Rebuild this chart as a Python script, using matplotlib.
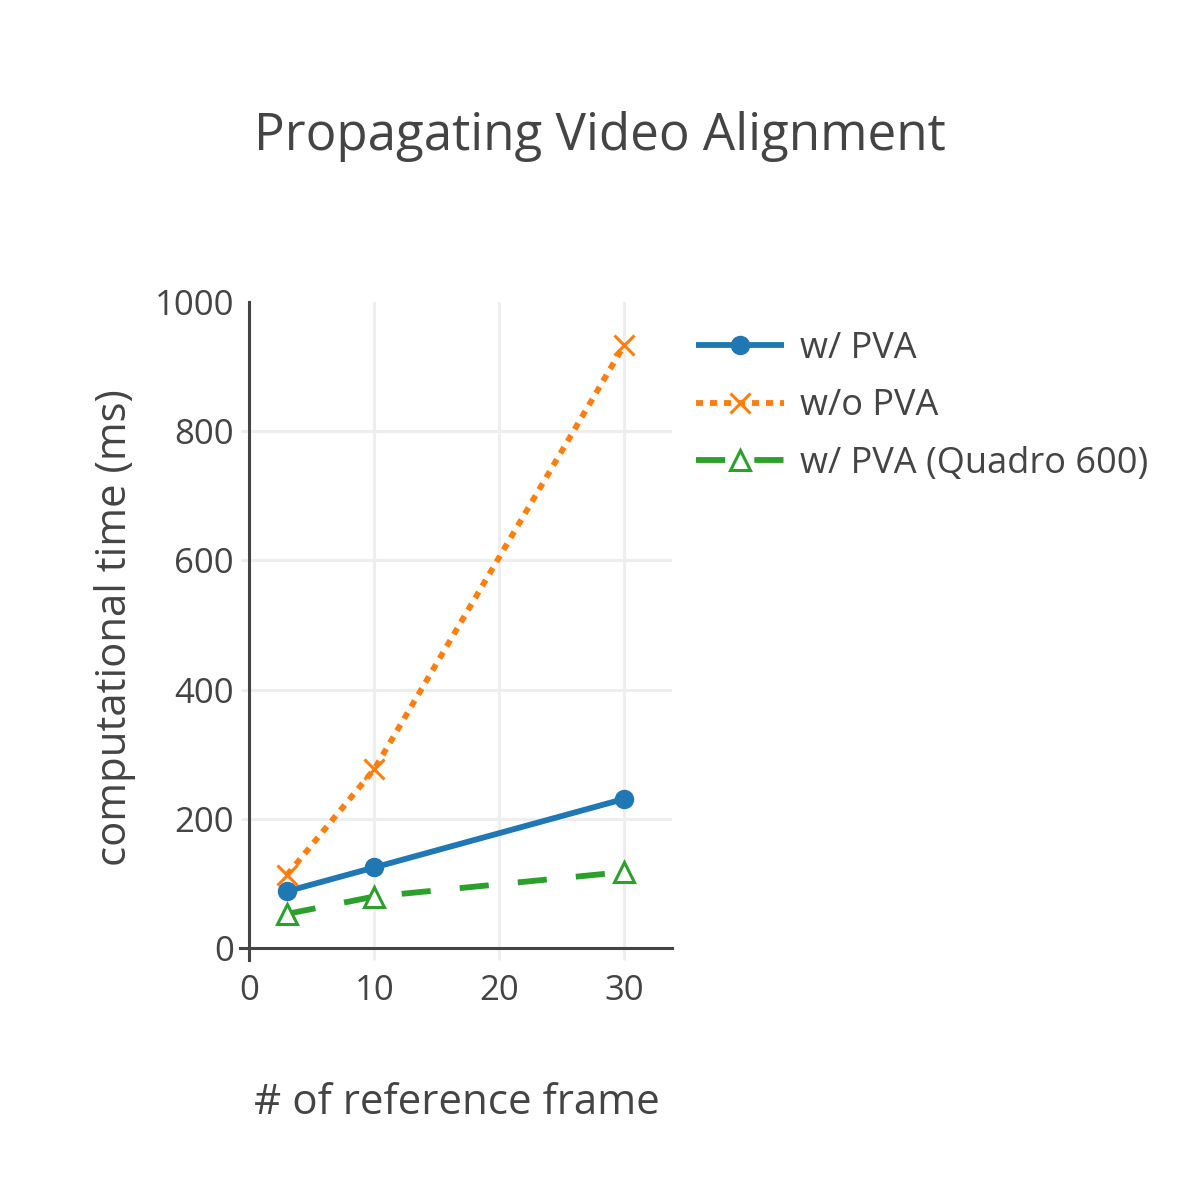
import matplotlib
matplotlib.use("Agg")
import matplotlib.pyplot as plt
import matplotlib.transforms as mtransforms
from matplotlib.lines import Line2D

# reference frames vs. computational time (ms)
frames = [3, 10, 30]
pva = [88, 125, 231]
no_pva = [113, 277, 933]
pva_quadro = [53, 80, 118]

series_names = ["w/ PVA", "w/o PVA", "w/ PVA (Quadro 600)"]
xticks = [0, 10, 20, 30]
yticks = [0, 200, 400, 600, 800, 1000]

plt.rcParams['font.family'] = ['Open Sans', 'DejaVu Sans']
txt = '#444444'

fig = plt.figure(figsize=(12, 12), dpi=100)
ax = fig.add_axes([0.2078, 0.2098, 0.352, 0.5388])

ax.plot(frames, pva, color='#1f77b4', lw=4.2, marker='o', ms=13,
        label=series_names[0], solid_capstyle='butt')
ax.plot(frames, no_pva, color='#ff7f0e', lw=4.2, ls=(0, (1.2, 1.2)), marker='x', ms=14,
        mew=2.2, label=series_names[1], dash_capstyle='butt')
ax.plot(frames, pva_quadro, color='#2ca02c', lw=4.2, ls=(0, (5, 5)), marker='^', ms=14,
        mew=2.2, mfc='white', label=series_names[2], dash_capstyle='butt')

ax.set_xlim(0, 33.8)
ax.set_ylim(0, 1000)
ax.set_xticks(xticks)
ax.set_yticks(yticks)
ax.grid(True, color='#eeeeee', lw=2.2)
ax.set_axisbelow(True)

for s in ax.spines.values():
    s.set_visible(False)

ax.tick_params(axis='x', length=8.6, width=2.2, color='#eeeeee', labelsize=25,
               labelcolor=txt, pad=10)
ax.tick_params(axis='y', length=6, width=2.2, color='#eeeeee', labelsize=25,
               labelcolor=txt, pad=5)

# no grid line or tick mark on the top edge
top = ax.yaxis.get_major_ticks()[-1]
top.gridline.set_visible(False)
top.tick1line.set_visible(False)

# axis lines, each running past the origin by the tick length
dx = mtransforms.ScaledTranslation(-9 / 100, 0, fig.dpi_scale_trans)
dy = mtransforms.ScaledTranslation(0, -12 / 100, fig.dpi_scale_trans)
ax.add_line(Line2D([0, 0], [0, 1], transform=ax.transAxes, color=txt, lw=2.2,
                   clip_on=False))
ax.add_line(Line2D([0, 1], [0, 0], transform=ax.transAxes, color=txt, lw=2.2,
                   clip_on=False))
ax.add_line(Line2D([0, 0], [0, 0.02], transform=ax.transAxes + dy, color=txt, lw=2.2,
                   clip_on=False))
ax.add_line(Line2D([0, 0.02], [0, 0], transform=ax.transAxes + dx, color=txt, lw=2.2,
                   clip_on=False))

fig.text(0.5, 0.886, "Propagating Video Alignment", ha='center', va='center',
         fontsize=36.8, color=txt)
fig.text(0.3804, 0.0805, "# of reference frame", ha='center', va='center',
         fontsize=30.3, color=txt)
fig.text(0.0958, 0.477, "computational time (ms)", ha='center', va='center',
         rotation=90, fontsize=30.2, color=txt)

leg = ax.legend(loc='upper left', bbox_to_anchor=(0.5802, 0.7245),
                bbox_transform=fig.transFigure, frameon=False, fontsize=26,
                handlelength=2.44, handletextpad=0.42, labelspacing=0.6,
                borderaxespad=0, borderpad=0)
for t in leg.get_texts():
    t.set_color(txt)

fig.savefig("out.png", dpi=100)
